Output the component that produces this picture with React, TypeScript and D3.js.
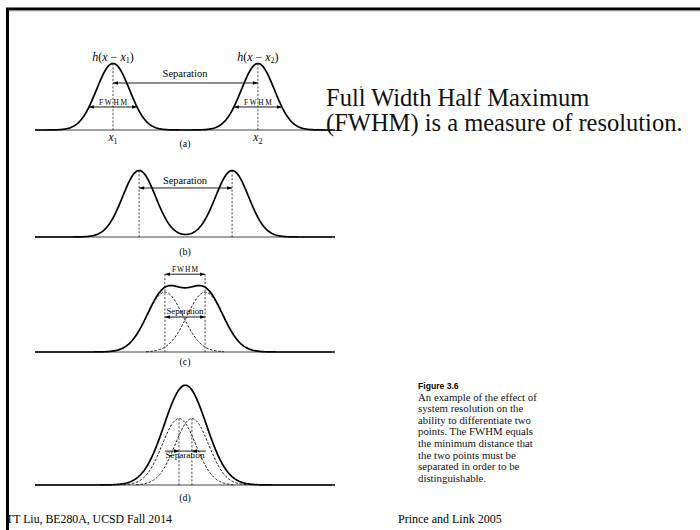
import React, { useEffect, useRef } from 'react';
import * as d3 from 'd3';

// x is in arbitrary units across each panel's axis (-50..50), y in units of one peak height
const panelNames = ['(a)', '(b)', '(c)', '(d)'];
const peakCenters = [[-24, 24.3], [-15.3, 15.7], [-6.7, 6.7], [-2, 2.3]];
const peakSigmas = [5.5, 5.5, 6, 5.6];
const peakHeights = [1, 1, 0.9, 1];
// panel (d): the blurred result is a single broad peak
const envelopeCenter = 0.1;
const envelopeSigma = 7;
const envelopeHeight = 1.5;

const headline = ['Full Width Half Maximum', '(FWHM) is a measure of resolution.'];
const captionTitle = 'Figure 3.6';
const captionLines = [
  'An example of the effect of',
  'system resolution on the',
  'ability to differentiate two',
  'points. The FWHM equals',
  'the minimum distance that',
  'the two points must be',
  'separated in order to be',
  'distinguishable.',
];
const footerLeft = 'TT Liu, BE280A, UCSD Fall 2014';
const footerRight = 'Prince and Link 2005';

const serif = '"Liberation Serif", "Times New Roman", serif';
const sans = '"Liberation Sans", Arial, sans-serif';

const gauss = (x: number, c: number, s: number, h: number) =>
  h * Math.exp(-((x - c) ** 2) / (2 * s * s));

const App: React.FC = () => {
  const svgRef = useRef<SVGSVGElement>(null);

  useEffect(() => {
    if (!svgRef.current) return;
    const svg = d3.select(svgRef.current);
    svg.selectAll('*').remove();

    // page frame (black rule at left and top)
    svg.append('path')
      .attr('d', 'M7.5,532 V9 H702')
      .attr('fill', 'none')
      .attr('stroke', '#000')
      .attr('stroke-width', 3);
    svg.append('line')
      .attr('x1', 9).attr('x2', 700).attr('y1', 11).attr('y2', 11)
      .attr('stroke', '#aaa').attr('stroke-width', 0.8);

    const x = d3.scaleLinear().domain([-50, 50]).range([35, 335]);
    const baselines = [130, 237, 352, 485];
    const unitPx = 66.5;
    const samples = d3.range(-50, 50.001, 0.25);

    const arrowHead = (g: any, tip: number, y: number, dir: number) => {
      g.append('path')
        .attr('d', `M${tip},${y} L${tip - dir * 5},${y - 1.8} L${tip - dir * 5},${y + 1.8} Z`)
        .attr('fill', '#000');
    };
    const hline = (g: any, x1: number, x2: number, y: number) => {
      g.append('line')
        .attr('x1', x1).attr('x2', x2).attr('y1', y).attr('y2', y)
        .attr('stroke', '#000').attr('stroke-width', 0.9);
    };
    const dashed = (g: any, xv: number, y1: number, y2: number) => {
      g.append('line')
        .attr('x1', xv).attr('x2', xv).attr('y1', y1).attr('y2', y2)
        .attr('stroke', '#222').attr('stroke-width', 0.8)
        .attr('stroke-dasharray', '2.2,1.6');
    };
    const label = (g: any, text: string, xv: number, yv: number, size: number) =>
      g.append('text')
        .attr('x', xv).attr('y', yv)
        .attr('text-anchor', 'middle')
        .attr('font-family', serif)
        .attr('font-size', size)
        .text(text);

    panelNames.forEach((name, i) => {
      const g = svg.append('g');
      const b = baselines[i];
      const y = d3.scaleLinear().domain([0, 1]).range([b, b - unitPx]);
      const centers = peakCenters[i];
      const s = peakSigmas[i];
      const h = peakHeights[i];
      const sum = (v: number) => d3.sum(centers, c => gauss(v, c, s, h));

      // axis
      g.append('line')
        .attr('x1', x(-50)).attr('x2', x(49)).attr('y1', b).attr('y2', b)
        .attr('stroke', '#444').attr('stroke-width', 1.1);

      const line = d3.line<number>().x(v => x(v));

      // individual point responses (dashed) in (c) and (d)
      if (i >= 2) {
        centers.forEach(c => {
          g.append('path')
            .attr('d', line.y(v => y(gauss(v, c, s, h)))(samples.filter(v => gauss(v, c, s, h) > 0.004)))
            .attr('fill', 'none')
            .attr('stroke', '#111')
            .attr('stroke-width', 1)
            .attr('stroke-dasharray', '2.6,1.6');
        });
      }

      // measured profile (solid)
      const solid = i === 3
        ? (v: number) => gauss(v, envelopeCenter, envelopeSigma, envelopeHeight)
        : sum;
      g.append('path')
        .attr('d', line.y(v => y(solid(v)))(samples))
        .attr('fill', 'none')
        .attr('stroke', '#000')
        .attr('stroke-width', 1.7);

      // dashed verticals at the point positions
      const topLevel = i === 2 ? 1.17 : i === 3 ? h : 1;
      centers.forEach(c => dashed(g, x(c), y(i === 0 ? sum(c) : topLevel), b));

      const xc0 = x(centers[0]);
      const xc1 = x(centers[1]);

      if (i === 0) {
        // separation arrow
        const ys = y(0.707);
        hline(g, xc0, xc1, ys);
        arrowHead(g, xc0, ys, -1);
        arrowHead(g, xc1, ys, 1);
        label(g, 'Separation', x(0), y(0.795), 10.5);
        // FWHM arrows on each peak and the point labels
        const level = 0.346;
        const half = s * Math.sqrt(-2 * Math.log(level / h));
        centers.forEach((c, k) => {
          const yf = y(level);
          hline(g, x(c - half), x(c + half), yf);
          arrowHead(g, x(c - half), yf, -1);
          arrowHead(g, x(c + half), yf, 1);
          label(g, 'FWHM', x(c), yf - 1.5, 7.4).attr('textLength', 28);
          const hl = g.append('text')
            .attr('x', x(c)).attr('y', y(h) - 3)
            .attr('text-anchor', 'middle')
            .attr('font-family', serif)
            .attr('font-size', 12);
          hl.append('tspan').attr('font-style', 'italic').text('h');
          hl.append('tspan').text('(');
          hl.append('tspan').attr('font-style', 'italic').text('x');
          hl.append('tspan').text(' \u2212 ');
          hl.append('tspan').attr('font-style', 'italic').text('x');
          hl.append('tspan').attr('font-size', 8).attr('dy', 2.5).text(String(k + 1));
          hl.append('tspan').attr('dy', -2.5).text(')');
          const xl = g.append('text')
            .attr('x', x(c)).attr('y', b + 11)
            .attr('text-anchor', 'middle')
            .attr('font-family', serif)
            .attr('font-size', 11.5);
          xl.append('tspan').attr('font-style', 'italic').text('x');
          xl.append('tspan').attr('font-size', 8).attr('dy', 2.5).text(String(k + 1));
        });
      } else if (i === 1) {
        const ys = y(0.737);
        hline(g, xc0, xc1, ys);
        arrowHead(g, xc0, ys, -1);
        arrowHead(g, xc1, ys, 1);
        label(g, 'Separation', x(0), y(0.797), 10.3);
      } else if (i === 2) {
        const yf = y(1.17);
        hline(g, xc0, xc1, yf);
        arrowHead(g, xc0, yf, -1);
        arrowHead(g, xc1, yf, 1);
        label(g, 'FWHM', x(0), yf - 2.5, 7.4).attr('textLength', 26);
        const ys = y(0.526);
        hline(g, xc0, xc1, ys);
        arrowHead(g, xc0, ys, -1);
        arrowHead(g, xc1, ys, 1);
        label(g, 'Separation', x(0), y(0.57), 8.8).attr('textLength', 37);
      } else {
        const ys = y(0.51);
        hline(g, xc0 - 14, xc1 + 14, ys);
        arrowHead(g, xc0, ys, 1);
        arrowHead(g, xc1, ys, -1);
        label(g, 'Separation', x(0), y(0.4), 9.2).attr('textLength', 39);
      }

      const nameOffset = [17, 18, 13, 16][i];
      label(g, name, x(0), b + nameOffset, 9.8);
    });

    // headline on the right
    svg.append('circle').attr('cx', 361).attr('cy', 87).attr('r', 0.8).attr('fill', '#333');
    headline.forEach((t, k) => {
      svg.append('text')
        .attr('x', 326).attr('y', 106 + k * 24.5)
        .attr('font-family', serif)
        .attr('font-size', 24.5)
        .attr('fill', '#111')
        .text(t);
    });

    // figure caption
    svg.append('text')
      .attr('x', 418).attr('y', 389)
      .attr('font-family', sans)
      .attr('font-weight', 'bold')
      .attr('font-size', 8.6)
      .text(captionTitle);
    captionLines.forEach((t, k) => {
      svg.append('text')
        .attr('x', 418).attr('y', 400.6 + k * 11.6)
        .attr('font-family', serif)
        .attr('font-size', 10.8)
        .attr('fill', '#111')
        .text(t);
    });

    // footers
    svg.append('text')
      .attr('x', 6).attr('y', 523)
      .attr('font-family', serif).attr('font-size', 11.8)
      .text(footerLeft);
    svg.append('text')
      .attr('x', 398).attr('y', 523)
      .attr('font-family', serif).attr('font-size', 12)
      .text(footerRight);
  }, []);

  return (
    <svg
      ref={svgRef}
      width={700}
      height={530}
      style={{ position: 'absolute', left: 0, top: 0, background: '#fff' }}
    />
  );
};

export default App;
